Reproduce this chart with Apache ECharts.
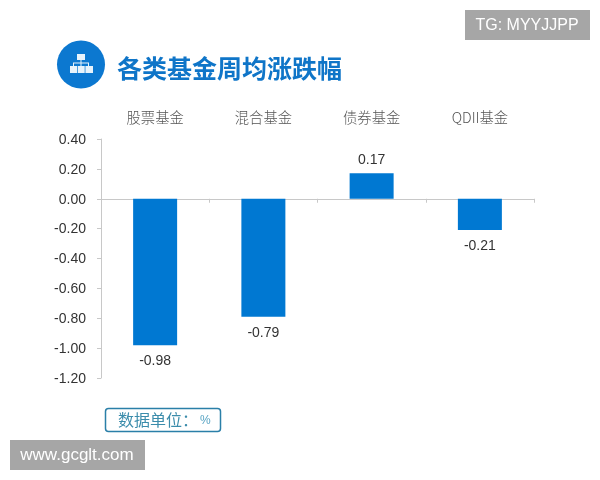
<!DOCTYPE html>
<html>
<head>
<meta charset="utf-8">
<style>html,body{margin:0;padding:0;background:#fff}#c{width:600px;height:480px}</style>
<script src="https://cdn.jsdelivr.net/npm/echarts@6/dist/echarts.min.js"></script>
</head>
<body>
<div id="c"></div>
<script>
const categories = ['股票基金', '混合基金', '债券基金', 'QDII基金'];
const values = [-0.98, -0.79, 0.17, -0.21];
const titleText = '各类基金周均涨跌幅';
const unitText = '数据单位：';
const unitSymbol = '%';
const tagText = 'TG: MYYJJPP';
const siteText = 'www.gcglt.com';

const CJK = '"Noto Sans CJK SC","Noto Sans",sans-serif';
const LAT = '"Liberation Sans",Arial,sans-serif';
const ICON = '#e8f3fb';
const chart = echarts.init(document.getElementById('c'), null, {renderer: 'canvas'});
chart.setOption({
  animation: false,
  backgroundColor: '#fff',
  grid: {left: 101, right: 66, top: 139, bottom: 102},
  xAxis: [
    {type: 'category', data: categories, position: 'bottom',
     axisLine: {onZero: true, lineStyle: {color: '#c8c8c8', width: 1}},
     axisTick: {show: true, length: 4, lineStyle: {color: '#c8c8c8'}},
     axisLabel: {show: false}, splitLine: {show: false}},
    {type: 'category', data: categories, position: 'top',
     axisLine: {show: false}, axisTick: {show: false}, splitLine: {show: false},
     axisLabel: {show: true, margin: 14, fontFamily: CJK, fontSize: 14.3, fontWeight: 300, color: '#555'}}
  ],
  yAxis: {
    type: 'value', min: -1.2, max: 0.4, interval: 0.2,
    axisLine: {show: true, lineStyle: {color: '#c8c8c8', width: 1}},
    axisTick: {show: true, length: 4, lineStyle: {color: '#c8c8c8'}},
    axisLabel: {margin: 15, fontFamily: LAT, fontSize: 14, color: '#333', verticalAlign: 'top', padding: [-6, 0, 0, 0],
      formatter: v => v.toFixed(2)},
    splitLine: {show: false}
  },
  series: [{
    type: 'bar', barWidth: 44, xAxisIndex: 0,
    data: values.map(v => ({value: v, label: {distance: v < 0 ? 9 : 6}})),
    itemStyle: {color: '#0078d2'},
    label: {show: true, position: 'outside', fontFamily: LAT, fontSize: 14, color: '#333',
      formatter: p => p.value.toFixed(2)}
  }],
  graphic: [
    {type: 'circle', shape: {cx: 81, cy: 64.5, r: 24}, style: {fill: '#0c78d0'}},
    {type: 'rect', shape: {x: 77, y: 54, width: 8, height: 6}, style: {fill: ICON}},
    {type: 'rect', shape: {x: 80.5, y: 60, width: 1, height: 3}, style: {fill: ICON}},
    {type: 'rect', shape: {x: 73, y: 62.5, width: 16, height: 1}, style: {fill: ICON}},
    {type: 'rect', shape: {x: 73, y: 63, width: 1, height: 3}, style: {fill: ICON}},
    {type: 'rect', shape: {x: 80.5, y: 63, width: 1, height: 3}, style: {fill: ICON}},
    {type: 'rect', shape: {x: 88, y: 63, width: 1, height: 3}, style: {fill: ICON}},
    {type: 'rect', shape: {x: 70, y: 66, width: 7, height: 7}, style: {fill: ICON}},
    {type: 'rect', shape: {x: 77.7, y: 66, width: 7, height: 7}, style: {fill: ICON}},
    {type: 'rect', shape: {x: 85.4, y: 66, width: 7.6, height: 7}, style: {fill: ICON}},
    {type: 'text', style: {x: 117, y: 68, text: titleText, fontFamily: CJK, fontSize: 25, fontWeight: 'bold', fill: '#0f75c8', textVerticalAlign: 'middle'}},
    {type: 'rect', shape: {x: 105.5, y: 408.5, width: 115, height: 23, r: 3}, style: {fill: '#fff', stroke: '#2a7fa8', lineWidth: 1.5}},
    {type: 'text', style: {x: 118, y: 420, text: unitText, fontFamily: CJK, fontSize: 16, fill: '#3b8cab', textVerticalAlign: 'middle'}},
    {type: 'text', style: {x: 200, y: 421, text: unitSymbol, fontFamily: '"Liberation Sans Narrow",' + LAT, fontSize: 12, fill: '#5aa5c4', textVerticalAlign: 'middle'}},
    {type: 'rect', shape: {x: 465, y: 10, width: 125, height: 30}, style: {fill: '#a6a6a6'}},
    {type: 'text', style: {x: 527, y: 26, text: tagText, fontFamily: LAT, fontSize: 16, fill: '#fff', textAlign: 'center', textVerticalAlign: 'middle'}},
    {type: 'rect', shape: {x: 10, y: 440, width: 135, height: 30}, style: {fill: '#a6a6a6'}},
    {type: 'text', style: {x: 77, y: 455, text: siteText, fontFamily: LAT, fontSize: 17, fill: '#fff', textAlign: 'center', textVerticalAlign: 'middle'}}
  ]
});
</script>
</body>
</html>
